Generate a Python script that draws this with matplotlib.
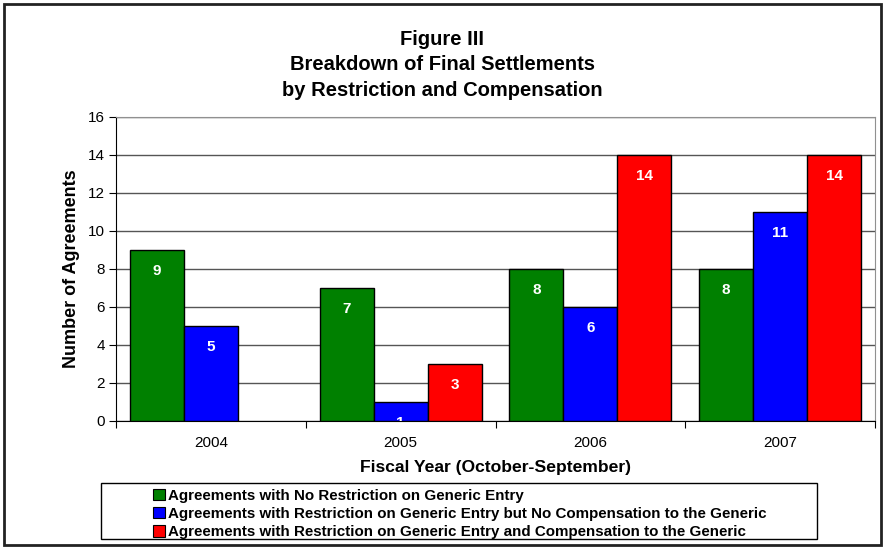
import numpy as np
import matplotlib
matplotlib.use('Agg')
import matplotlib.pyplot as plt
from matplotlib.patches import Rectangle, Patch

plt.rcParams['font.family'] = ['Liberation Sans', 'DejaVu Sans']

years = ['2004', '2005', '2006', '2007']
no_restriction = [9, 7, 8, 8]
restriction_no_comp = [5, 1, 6, 11]
restriction_comp = [0, 3, 14, 14]
series_names = ['Agreements with No Restriction on Generic Entry',
                'Agreements with Restriction on Generic Entry but No Compensation to the Generic',
                'Agreements with Restriction on Generic Entry and Compensation to the Generic']
colors = ['#008000', '#0000FF', '#FF0000']

W, H = 885, 552
fig = plt.figure(figsize=(W / 100, H / 100), dpi=100)
ax = fig.add_axes([116 / W, 1 - 421 / H, (875 - 116) / W, (421 - 117) / H])

# outer frame
fig.patches.append(Rectangle((4 / W, 1 - 545 / H), 877 / W, 541 / H, transform=fig.transFigure,
                             fill=False, edgecolor='#222222', linewidth=2))

w = 0.2846
for k, vals in enumerate([no_restriction, restriction_no_comp, restriction_comp]):
    vals = np.array(vals, dtype=float)
    x = np.arange(len(years)) + 0.5 + (k - 1) * w
    m = vals > 0
    ax.bar(x[m], vals[m], width=w, color=colors[k], edgecolor='black', linewidth=1, zorder=3)
    for xi, v in zip(x[m], vals[m]):
        ax.annotate(f'{int(v)}', (xi, v), xytext=(0, -15), textcoords='offset points',
                    ha='center', va='center', color='white', fontsize=11,
                    fontweight='bold', zorder=4, clip_on=True, annotation_clip=True)

ax.set_xlim(0, 4)
ax.set_ylim(0, 16)
ax.set_yticks(np.arange(0, 17, 2))
ax.set_xticks(np.arange(0, 5))
ax.set_xticklabels([])
ax.set_xticks(np.arange(len(years)) + 0.5, minor=True)
ax.set_xticklabels(years, minor=True)
ax.tick_params(axis='x', which='minor', length=0, pad=11, labelsize=11)
ax.tick_params(axis='x', which='major', length=5, direction='out', color='black')
ax.tick_params(axis='y', length=5, direction='out', labelsize=11, pad=3)
ax.yaxis.grid(True, color='#555555', linewidth=1, zorder=0)
ax.set_axisbelow(True)
for s in ['top', 'right']:
    ax.spines[s].set_color('#909090')
for s in ['left', 'bottom']:
    ax.spines[s].set_color('black')

ax.set_ylabel('Number of Agreements', fontsize=13, fontweight='bold', labelpad=6)
ax.set_xlabel('Fiscal Year (October-September)', fontsize=12.6, fontweight='bold', labelpad=7)

fig.text(0.5, 1 - 65 / H, 'Figure III\nBreakdown of Final Settlements\nby Restriction and Compensation',
         ha='center', va='center', fontsize=14.5, fontweight='bold', linespacing=1.42)

# legend box
fig.patches.append(Rectangle((101 / W, 1 - 539 / H), (817 - 101) / W, (539 - 483) / H,
                             transform=fig.transFigure, fill=False, edgecolor='black', linewidth=1))
handles = [Patch(facecolor=c, edgecolor='black', linewidth=0.8) for c in colors]
leg = fig.legend(handles, series_names, loc='upper left', bbox_to_anchor=(145 / W, 1 - 481 / H),
                 frameon=False, handlelength=0.8, handleheight=0.8,
                 handletextpad=0.25, labelspacing=0.28, borderpad=0.0,
                 prop={'weight': 'bold', 'size': 10.9})

fig.savefig('out.png', dpi=100)
